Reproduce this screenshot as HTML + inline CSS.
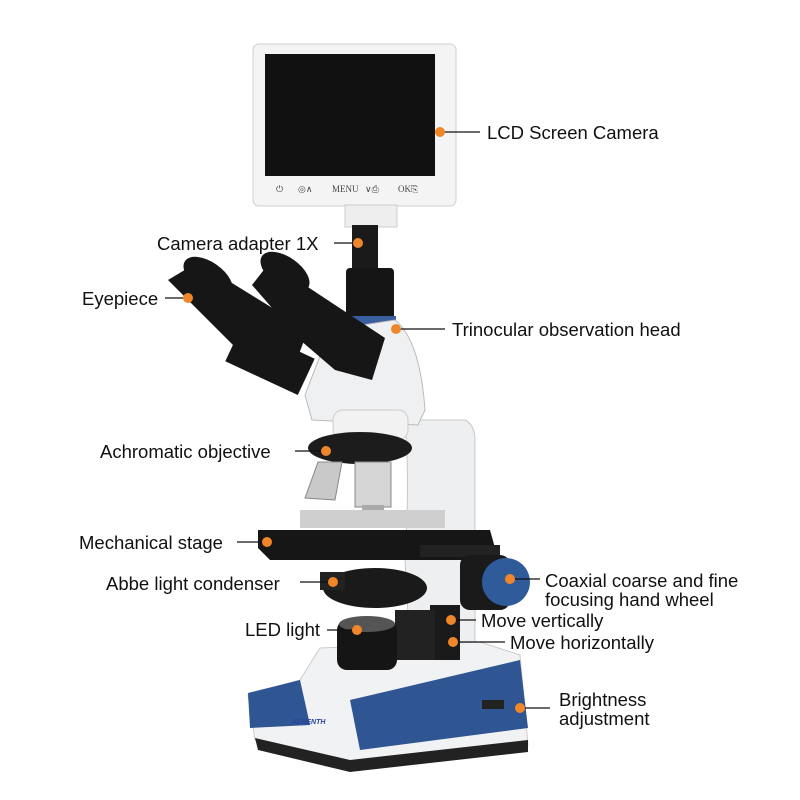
<!DOCTYPE html>
<html><head><style>
body{margin:0;background:#fff;}
.w{position:relative;width:800px;height:800px;overflow:hidden;font-family:"Liberation Sans",sans-serif;}
.t{position:absolute;font-size:18.5px;color:#111;line-height:19px;white-space:nowrap;}
</style></head><body><div class="w">
<svg width="800" height="800" style="position:absolute;left:0;top:0">
<!-- LCD -->
<rect x="253" y="44" width="203" height="162" rx="6" fill="#f4f4f4" stroke="#d0d0d0"/>
<rect x="265" y="54" width="170" height="122" fill="#111"/>
<g font-family="Liberation Serif" font-size="9" fill="#444">
<text x="276" y="192">⏻</text><text x="298" y="192">◎∧</text><text x="332" y="192">MENU</text><text x="365" y="192">∨⎙</text><text x="398" y="192">OK⎘</text></g>
<rect x="345" y="205" width="52" height="22" fill="#eee" stroke="#ccc"/>
<!-- arm -->
<path d="M405 420 L465 420 Q475 425 475 440 L475 650 L410 650 L405 560 Q410 480 405 420 Z" fill="#eeeff1" stroke="#c8c8c8"/>
<!-- base -->
<path d="M320 648 L480 642 L520 655 L528 745 L350 768 L255 740 L248 695 L300 680 Z" fill="#f1f2f4" stroke="#ccc"/>
<path d="M248 693 L300 680 L310 725 L250 728 Z" fill="#2f5592"/>
<path d="M350 700 L520 660 L528 728 L360 750 Z" fill="#2f5592"/>
<path d="M255 738 L350 760 L528 740 L528 752 L350 772 L258 750 Z" fill="#222"/>
<rect x="482" y="700" width="22" height="9" fill="#222"/>
<text x="292" y="724" font-size="7" font-weight="bold" fill="#2a45a0" font-style="italic">ALBENTH</text>
<!-- trinocular tube -->
<rect x="352" y="225" width="26" height="45" fill="#1a1a1a"/>
<rect x="346" y="268" width="48" height="58" rx="4" fill="#151515"/>
<rect x="346" y="316" width="50" height="16" fill="#3a5f9e"/>
<!-- head -->
<path d="M330 330 L395 320 Q420 340 425 410 L418 425 L312 420 L305 395 Z" fill="#eef0f2" stroke="#bbb"/>
<rect x="333" y="410" width="75" height="30" rx="10" fill="#f2f2f2" stroke="#ccc"/>
<!-- eyepieces -->
<g fill="#161616">
<path d="M168 280 L198 262 L308 330 L290 378 L240 352 Z"/>
<path d="M252 285 L270 262 L385 338 L372 380 L335 370 L300 340 Z"/>
<ellipse cx="208" cy="277" rx="28" ry="15" transform="rotate(35 208 277)"/>
<ellipse cx="285" cy="272" rx="28" ry="15" transform="rotate(35 285 272)"/>
<rect x="230" y="340" width="80" height="40" transform="rotate(25 270 360)"/>
</g>
<!-- nosepiece & objectives -->
<ellipse cx="360" cy="448" rx="52" ry="16" fill="#1c1c1c"/>
<path d="M318 462 L342 462 L335 500 L305 498 Z" fill="#c9c9c9" stroke="#888"/>
<rect x="355" y="462" width="36" height="45" fill="#d5d5d5" stroke="#888"/>
<rect x="362" y="505" width="22" height="15" fill="#aaa"/>
<!-- stage -->
<rect x="300" y="510" width="145" height="18" fill="#cfcfcf"/>
<path d="M258 530 L490 530 L495 548 L470 560 L270 560 L258 548 Z" fill="#161616"/>
<rect x="420" y="545" width="80" height="12" fill="#222"/>
<!-- condenser -->
<ellipse cx="375" cy="588" rx="52" ry="20" fill="#1a1a1a"/>
<rect x="320" y="572" width="25" height="18" fill="#222"/>
<!-- knobs -->
<rect x="460" y="555" width="50" height="55" rx="10" fill="#1a1a1a"/>
<circle cx="506" cy="582" r="24" fill="#2f5b9b"/>
<rect x="430" y="605" width="30" height="55" fill="#1a1a1a"/>
<!-- LED -->
<rect x="395" y="610" width="40" height="50" fill="#222"/>
<rect x="337" y="620" width="60" height="50" rx="10" fill="#151515"/>
<ellipse cx="367" cy="624" rx="28" ry="8" fill="#555"/>
<!-- leader lines -->
<g stroke="#111" stroke-width="1.3">
<line x1="440" y1="132" x2="480" y2="132"/>
<line x1="334" y1="243" x2="358" y2="243"/>
<line x1="165" y1="298" x2="188" y2="298"/>
<line x1="396" y1="329" x2="445" y2="329"/>
<line x1="295" y1="451" x2="326" y2="451"/>
<line x1="237" y1="542" x2="267" y2="542"/>
<line x1="300" y1="582" x2="333" y2="582"/>
<line x1="510" y1="579" x2="540" y2="579"/>
<line x1="327" y1="630" x2="357" y2="630"/>
<line x1="451" y1="620" x2="476" y2="620"/>
<line x1="453" y1="642" x2="505" y2="642"/>
<line x1="520" y1="708" x2="550" y2="708"/>
</g>
<g fill="#f0862a">
<circle cx="440" cy="132" r="5"/><circle cx="358" cy="243" r="5"/><circle cx="188" cy="298" r="5"/>
<circle cx="396" cy="329" r="5"/><circle cx="326" cy="451" r="5"/><circle cx="267" cy="542" r="5"/>
<circle cx="333" cy="582" r="5"/><circle cx="510" cy="579" r="5"/><circle cx="357" cy="630" r="5"/>
<circle cx="451" cy="620" r="5"/><circle cx="453" cy="642" r="5"/><circle cx="520" cy="708" r="5"/>
</g>
</svg>
<div class="t" style="left:487px;top:123px">LCD Screen Camera</div>
<div class="t" style="left:157px;top:234px">Camera adapter 1X</div>
<div class="t" style="left:82px;top:289px">Eyepiece</div>
<div class="t" style="left:452px;top:320px">Trinocular observation head</div>
<div class="t" style="left:100px;top:442px">Achromatic objective</div>
<div class="t" style="left:79px;top:533px">Mechanical stage</div>
<div class="t" style="left:106px;top:574px">Abbe light condenser</div>
<div class="t" style="left:545px;top:571px">Coaxial coarse and fine</div>
<div class="t" style="left:545px;top:590px">focusing hand wheel</div>
<div class="t" style="left:245px;top:620px">LED light</div>
<div class="t" style="left:481px;top:611px">Move vertically</div>
<div class="t" style="left:510px;top:633px">Move horizontally</div>
<div class="t" style="left:559px;top:690px">Brightness</div>
<div class="t" style="left:559px;top:709px">adjustment</div>
</div></body></html>
